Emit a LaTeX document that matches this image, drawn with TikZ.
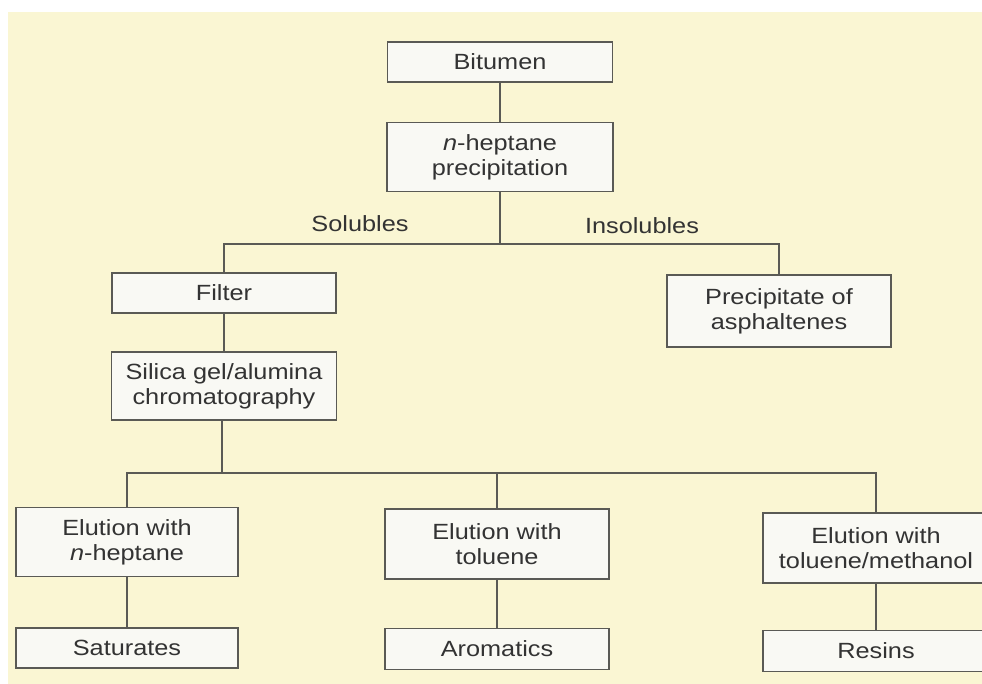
\documentclass[tikz,border=0pt]{standalone}
\usepackage{fontspec}
\setmainfont[FakeStretch=1.15]{Liberation Sans}
\definecolor{bg}{HTML}{FAF6D3}
\definecolor{boxfill}{HTML}{F9F9F4}
\definecolor{ln}{HTML}{5A5A55}
\definecolor{txt}{HTML}{333333}
\begin{document}
\begin{tikzpicture}[x=1pt,y=-1pt,
  box/.style={draw=ln, fill=boxfill, line width=1.5pt, align=center,
    text=txt, font=\fontsize{22}{25}\selectfont, inner sep=0pt},
  conn/.style={draw=ln, line width=1.4pt},
  lbl/.style={text=txt, font=\fontsize{22}{25}\selectfont, inner sep=0pt}]
\useasboundingbox (0,0) rectangle (982,684);
\clip (0,0) rectangle (982,684);
\fill[white] (0,0) rectangle (982,684);
\fill[bg] (8,12) rectangle (982,684);

\node[box, minimum width=225pt, minimum height=40pt] (bit) at (500,62) {Bitumen};
\node[box, minimum width=226pt, minimum height=69pt] (hep) at (500,157) {\textit{n}-heptane\\precipitation};
\node[box, minimum width=224pt, minimum height=40pt] (filter) at (224,293) {Filter};
\node[box, minimum width=224pt, minimum height=72pt] (prec) at (779,311) {Precipitate of\\asphaltenes};
\node[box, minimum width=225pt, minimum height=68pt] (silica) at (224,386) {Silica gel/alumina\\chromatography};
\node[box, minimum width=222pt, minimum height=69pt] (e1) at (127,542) {Elution with\\\textit{n}-heptane};
\node[box, minimum width=224pt, minimum height=70pt] (e2) at (497,544) {Elution with\\toluene};
\node[box, minimum width=226pt, minimum height=70pt] (e3) at (876,548) {Elution with\\toluene/methanol};
\node[box, minimum width=222pt, minimum height=40pt] (sat) at (127,648) {Saturates};
\node[box, minimum width=224pt, minimum height=41pt] (aro) at (497,649) {Aromatics};
\node[box, minimum width=226pt, minimum height=41pt] (res) at (876,651) {Resins};

\node[lbl, anchor=base] (sol) at (360,232) {Solubles};
\node[lbl, anchor=base] (ins) at (642,234) {Insolubles};

\coordinate (s1) at (500,244);
\coordinate (s2) at (222,473);

\draw[conn] (bit) -- (hep);
\draw[conn] (hep) -- (s1);
\draw[conn] (s1) -| (filter);
\draw[conn] (s1) -| (prec);
\draw[conn] (filter) -- (silica);
\draw[conn] (silica.south -| s2) -- (s2);
\draw[conn] (s2) -| (e1);
\draw[conn] (s2) -| (e2);
\draw[conn] (s2) -| (e3);
\draw[conn] (e1) -- (sat);
\draw[conn] (e2) -- (aro);
\draw[conn] (e3) -- (res);
\end{tikzpicture}
\end{document}
